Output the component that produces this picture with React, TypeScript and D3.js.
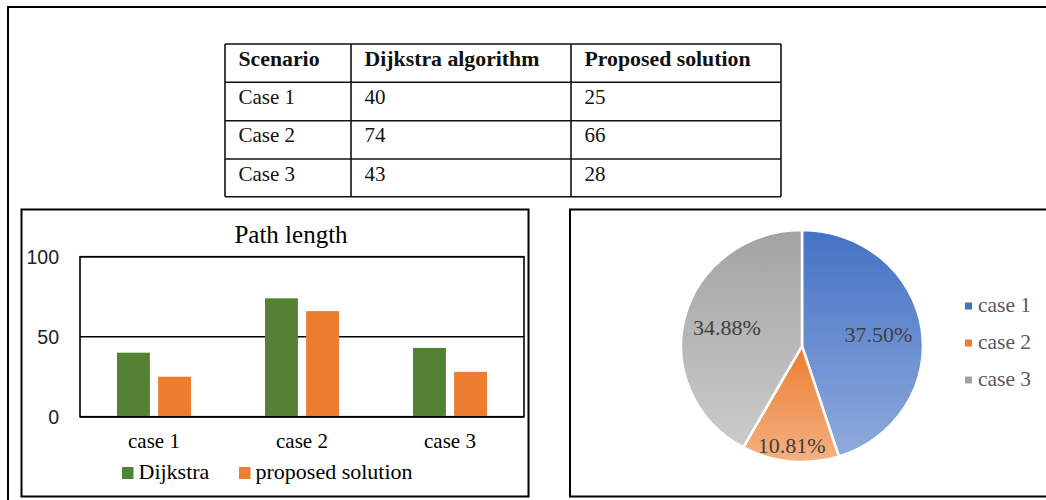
import React from "react";
import * as d3 from "d3";

// ---------- data ----------
const tableHeaders = ["Scenario", "Dijkstra algorithm", "Proposed solution"];
const tableScenarios = ["Case 1", "Case 2", "Case 3"];
const tableDijkstra = ["40", "74", "43"];
const tableProposed = ["25", "66", "28"];

const categories = ["case 1", "case 2", "case 3"];
const dijkstra = [40, 74, 43];
const proposed = [25, 66, 28];
const seriesNames = ["Dijkstra", "proposed solution"];
const yTicks = [0, 50, 100];
const barTitle = "Path length";

const pieCategories = ["case 1", "case 2", "case 3"];
const pieValues = [37.5, 10.81, 34.88];
const pieLabels = ["37.50%", "10.81%", "34.88%"];

// ---------- styles ----------
const SERIF = "'Liberation Serif', 'Times New Roman', serif";
const SANS = "'Liberation Sans', Arial, sans-serif";
const GREEN = "#548235";
const ORANGE = "#ED7D31";
const pieColors = [
  ["#4472C4", "#8FAADC"],
  ["#ED7D31", "#F4B183"],
  ["#A3A3A3", "#CBCBCB"],
];

export default function App() {
  // ---- table layout ----
  const colX = [225, 351, 571, 781];
  const rowY = [44, 82.3, 120.7, 159, 196.7];
  const tableCols = [tableScenarios, tableDijkstra, tableProposed];

  // ---- bar chart ----
  const x = d3.scaleBand<string>().domain(categories).range([80, 524]);
  const xs = d3
    .scaleBand<string>()
    .domain(seriesNames)
    .range([37, 111])
    .paddingInner(0.2);
  const y = d3.scaleLinear().domain([0, 100]).range([416.7, 256.7]);
  const seriesValues = [dijkstra, proposed];
  const seriesColors = [GREEN, ORANGE];

  // ---- pie ----
  const pcx = 802;
  const pcy = 346;
  const r = 118;
  const sx = 121 / r;
  const sy = 116 / r;
  const pie = d3
    .pie<number>()
    .sort(null)
    .value((d) => d)(pieValues);
  const arc = d3.arc<d3.PieArcDatum<number>>().innerRadius(0).outerRadius(r);
  const labelPos = (d: d3.PieArcDatum<number>, i: number) => {
    const k = i === 1 ? 0.86 : 0.64;
    const a = d3
      .arc<d3.PieArcDatum<number>>()
      .innerRadius(r * k)
      .outerRadius(r * k);
    const [cx, cy] = a.centroid(d);
    return [pcx + cx * sx, pcy + cy * sy];
  };

  return (
    <svg
      width={1046}
      height={500}
      style={{ position: "absolute", left: 0, top: 0, background: "#fff" }}
    >
      <defs>
        {pieColors.map((c, i) => (
          <linearGradient key={i} id={`pg${i}`} x1="0" y1="0" x2="0" y2="1">
            <stop offset="0" stopColor={c[0]} />
            <stop offset="1" stopColor={c[1]} />
          </linearGradient>
        ))}
      </defs>
      <rect x={0} y={0} width={1046} height={500} fill="#fff" />

      {/* outer frame */}
      <path d="M1050,7 H8 V505" fill="none" stroke="#000" strokeWidth={2} />

      {/* ---------- table ---------- */}
      <g>
        {rowY.map((ry, i) => (
          <line
            key={`h${i}`}
            x1={colX[0]}
            x2={colX[3]}
            y1={ry}
            y2={ry}
            stroke="#111"
            strokeWidth={1.6}
          />
        ))}
        {colX.map((cx, i) => (
          <line
            key={`v${i}`}
            x1={cx}
            x2={cx}
            y1={rowY[0]}
            y2={rowY[4]}
            stroke="#111"
            strokeWidth={1.6}
          />
        ))}
        {tableHeaders.map((h, i) => (
          <text
            key={h}
            x={colX[i] + 13.5}
            y={66.5}
            fontFamily={SERIF}
            fontWeight="bold"
            fontSize={20}
            transform={`translate(${colX[i] + 13.5},66.5) scale(1.09,1) translate(${-(colX[i] + 13.5)},-66.5)`}
            fill="#111"
          >
            {h}
          </text>
        ))}
        {tableCols.map((col, ci) =>
          col.map((v, ri) => (
            <text
              key={`${ci}-${ri}`}
              x={colX[ci] + 13.5}
              y={rowY[ri + 1] + 21.5}
              fontFamily={SERIF}
              fontSize={21}
              fill="#111"
            >
              {v}
            </text>
          ))
        )}
      </g>

      {/* ---------- bar chart ---------- */}
      <g>
        <rect
          x={21.5}
          y={209.5}
          width={507}
          height={287}
          fill="#fff"
          stroke="#000"
          strokeWidth={2}
        />
        <text
          x={291}
          y={243}
          textAnchor="middle"
          fontFamily={SERIF}
          fontSize={25}
          fill="#000"
        >
          {barTitle}
        </text>
        {/* plot box */}
        <rect
          x={80}
          y={y(100)}
          width={444}
          height={y(0) - y(100)}
          fill="none"
          stroke="#000"
          strokeWidth={1.6}
        />
        {yTicks.map((t) => (
          <g key={t}>
            <line
              x1={80}
              x2={524}
              y1={y(t)}
              y2={y(t)}
              stroke="#000"
              strokeWidth={1.6}
            />
            <text
              x={59}
              y={y(t)}
              dy="0.36em"
              textAnchor="end"
              fontFamily={SANS}
              fontSize={19.5}
              fill="#222"
            >
              {t}
            </text>
          </g>
        ))}
        {categories.map((c, ci) => (
          <g key={c}>
            {seriesNames.map((s, si) => (
              <rect
                key={s}
                x={(x(c) as number) + (xs(s) as number)}
                y={y(seriesValues[si][ci])}
                width={xs.bandwidth()}
                height={y(0) - y(seriesValues[si][ci])}
                fill={seriesColors[si]}
              />
            ))}
            <text
              x={(x(c) as number) + x.bandwidth() / 2}
              y={448}
              textAnchor="middle"
              fontFamily={SERIF}
              fontSize={21}
              fill="#000"
            >
              {c}
            </text>
          </g>
        ))}
        {/* redraw baseline over bars */}
        <line x1={80} x2={524} y1={y(0)} y2={y(0)} stroke="#000" strokeWidth={1.6} />
        {/* legend */}
        {seriesNames.map((s, i) => {
          const lx = [122, 239][i];
          return (
            <g key={s}>
              <rect x={lx} y={467} width={11.5} height={12} fill={seriesColors[i]} />
              <text
                x={lx + 16.5}
                y={479}
                fontFamily={SERIF}
                fontSize={22}
                fill="#000"
              >
                {s}
              </text>
            </g>
          );
        })}
      </g>

      {/* ---------- pie chart ---------- */}
      <g>
        <rect
          x={570}
          y={209.5}
          width={500}
          height={287}
          fill="#fff"
          stroke="#000"
          strokeWidth={2}
        />
        <g transform={`translate(${pcx},${pcy}) scale(${sx},${sy})`}>
          {pie.map((d, i) => (
            <path
              key={i}
              d={arc(d) as string}
              fill={`url(#pg${i})`}
              stroke="#fff"
              strokeWidth={2.5}
              strokeLinejoin="round"
            />
          ))}
        </g>
        {pie.map((d, i) => {
          const [lx, ly] = labelPos(d, i);
          return (
            <text
              key={i}
              x={lx}
              y={ly}
              dy="0.35em"
              textAnchor="middle"
              fontFamily={SERIF}
              fontSize={22}
              fill="#404040"
            >
              {pieLabels[i]}
            </text>
          );
        })}
        {pieCategories.map((c, i) => (
          <g key={c}>
            <rect
              x={965}
              y={302.5 + i * 37}
              width={7}
              height={7}
              fill={pieColors[i][0]}
            />
            <text
              x={978}
              y={312 + i * 37}
              fontFamily={SERIF}
              fontSize={21.5}
              fill="#595959"
            >
              {c}
            </text>
          </g>
        ))}
      </g>
    </svg>
  );
}
